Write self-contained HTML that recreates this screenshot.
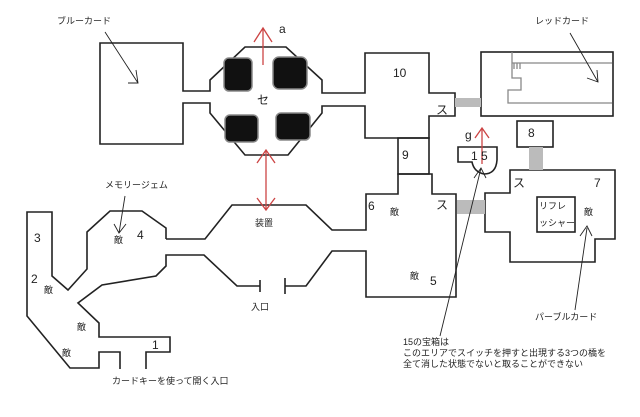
<!DOCTYPE html>
<html><head><meta charset="utf-8"><style>
body{margin:0;background:#fff}
svg{display:block}
text{font-family:"Liberation Sans","Noto Sans CJK JP",sans-serif;fill:#222}
</style></head><body>
<svg width="640" height="417" viewBox="0 0 640 417" xmlns="http://www.w3.org/2000/svg">
<g fill="none" stroke="#222" stroke-width="1.6">
<!-- blue room -->
<path d="M183,91 L183,43 L100,43 L100,144 L183,144 L183,103 L210,103 L210,113 L245,155 L288,155 L322,113 L322,106 L365,106 L365,138 L429,138 L429,116 L455,116 L455,93 L429,93 L429,53 L365,53 L365,93 L322,93 L322,80 L286,47 L245,47 L210,80 L210,91 Z"/>
<rect x="481" y="52" width="132" height="64"/>
<rect x="398" y="138" width="31" height="36"/>
<rect x="517" y="121" width="36" height="26"/>
<path d="M458,147 L497,147 L497,160 Q496,174 484,174 Q474,172 472,162 L458,162 Z"/>
<path d="M510,193 L510,170 L615,170 L615,239 L595,239 L595,262 L510,262 L510,232 L485,232 L485,193 Z"/>
<rect x="537" y="197" width="38" height="35"/>
<!-- big middle -->
<path d="M166,239 L205,239 L232,205 L306,205 L332,230 L366,230 L366,194 L398,194 L398,174 L432,174 L432,194 L456,194 L456,297 L366,297 L366,251 L332,251 L306,286 L285,286"/>
<path d="M285,278 L285,294 M260,280 L260,292"/>
<path d="M260,286 L237,286 L204,255 L166,255 L166,266 L156,276 L102,285 L78,303 L99,323 L99,337 L170,337 L170,352 L146,352 L146,369"/>
<path d="M120,369 L120,352 L99,352 L99,368 L70,368 L27,316 L27,212 L52,212 L52,276 L68,290 L87,269 L87,232 L110,211 L142,211 L166,228 L166,239"/>
</g>
<g fill="none" stroke="#888" stroke-width="1.3">
<path d="M512,52 L512,78 L521,78 L521,90 L508,90 L508,103 L612,103 M512,63 L612,63 M514,63 L514,69 M517,63 L517,69 M520,63 L520,69"/>
</g>
<g fill="#bbb">
<rect x="455" y="98" width="26" height="9"/>
<rect x="529" y="147" width="14" height="23"/>
<rect x="457" y="200" width="28" height="14"/>
</g>
<g fill="#111" stroke="#888" stroke-width="1.5">
<rect x="224" y="58" width="28" height="33" rx="5"/>
<rect x="273" y="57" width="34" height="32" rx="6"/>
<rect x="225" y="115" width="33" height="27" rx="5"/>
<rect x="276" y="113" width="34" height="27" rx="5"/>
</g>
<g fill="none" stroke="#c44" stroke-width="1.3">
<path d="M263,65 L263,28 M254,42 L263,28 L272,42"/>
<path d="M266,150 L266,210 M257,163 L266,150 L275,163 M257,198 L266,210 L275,198"/>
<path d="M482,164 L482,128 M475,138 L482,128 L489,138"/>
</g>
<g fill="none" stroke="#222" stroke-width="0.9">
<path d="M105,32 L138,83 M128,83 L138,83 L136,70"/>
<path d="M570,33 L598,82 M587,78 L598,82 L597,70"/>
<path d="M125,196 L119,233 M114,224 L119,233 L126,224"/>
<path d="M575,310 L587,228 M580,236 L587,226 L592,236"/>
<path d="M440,336 L481,168 M474,178 L481,168 L486,178"/>
</g>
<g font-size="9">
<text x="57" y="24">ブルーカード</text>
<text x="535" y="24">レッドカード</text>
<text x="105" y="188">メモリージェム</text>
<text x="255" y="226">装置</text>
<text x="251" y="310">入口</text>
<text x="112" y="384">カードキーを使って開く入口</text>
<text x="535" y="320">パーブルカード</text>
<text x="539" y="209">リフレ</text>
<text x="539" y="226">ッシャー</text>
<text x="403" y="345">15の宝箱は</text>
<text x="403" y="356">このエリアでスイッチを押すと出現する3つの橋を</text>
<text x="403" y="367">全て消した状態でないと取ることができない</text>
<text x="114" y="243">敵</text><text x="44" y="293">敵</text><text x="77" y="330">敵</text><text x="62" y="356">敵</text>
<text x="390" y="215">敵</text><text x="410" y="279">敵</text><text x="584" y="215">敵</text>
</g>
<g font-size="12">
<text x="34" y="242">3</text><text x="31" y="283">2</text><text x="152" y="349">1</text><text x="137" y="239">4</text>
<text x="368" y="210">6</text><text x="430" y="285">5</text><text x="594" y="187">7</text>
<text x="393" y="77">10</text><text x="402" y="159">9</text><text x="528" y="137">8</text>
<text x="471" y="160">1 5</text><text x="465" y="139">g</text><text x="279" y="33">a</text>
<text x="257" y="104">セ</text><text x="436" y="114">ス</text><text x="436" y="209">ス</text><text x="513" y="187">ス</text>
</g>
</svg>
</body></html>
